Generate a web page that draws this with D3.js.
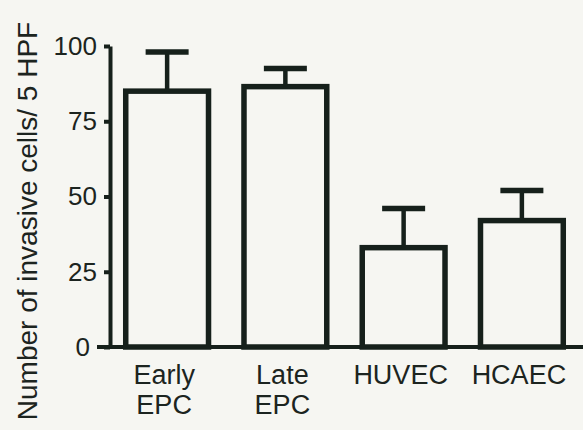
<!DOCTYPE html>
<html>
<head>
<meta charset="utf-8">
<script src="https://cdn.jsdelivr.net/npm/d3@7"></script>
<style>
  html, body { margin: 0; padding: 0; background: #f6f6f2; }
  svg { display: block; }
  text { font-family: "Liberation Sans", Arial, sans-serif; fill: #1c2420; }
</style>
</head>
<body>
<div id="chart"></div>
<script>
// data
const categories = ["Early EPC", "Late EPC", "HUVEC", "HCAEC"];
const labelLines = [["Early", "EPC"], ["Late", "EPC"], ["HUVEC"], ["HCAEC"]];
const means = [85, 86.5, 33, 42];
const errors = [13, 6, 13, 10];
const yTicks = [0, 25, 50, 75, 100];
const yTitle = "Number of invasive cells/ 5 HPF";

const width = 583, height = 430;
const ink = "#16201b";

const svg = d3.select("#chart").append("svg")
  .attr("width", width)
  .attr("height", height);

const y = d3.scaleLinear().domain([0, 100]).range([347, 46]);
const x = d3.scaleBand().domain(categories)
  .range([108, 581])
  .paddingInner(0.3)
  .paddingOuter(0.15);

// y axis
const yAxis = svg.append("g")
  .attr("transform", "translate(110,0)")
  .call(d3.axisLeft(y).tickValues(yTicks).tickSize(6).tickPadding(7).tickSizeOuter(0));
yAxis.select(".domain").attr("stroke", ink).attr("stroke-width", 4);
yAxis.selectAll(".tick line").attr("stroke", ink).attr("stroke-width", 4);
yAxis.selectAll(".tick text")
  .style("font-size", "26px")
  .style("font-family", "'Liberation Sans', Arial, sans-serif")
  .attr("fill", ink);
// the zero label sits further left, beside the longer baseline stub
yAxis.selectAll(".tick").filter(d => d === 0).select("text").attr("x", -20);

// x baseline
svg.append("line")
  .attr("x1", 97).attr("x2", width)
  .attr("y1", y(0)).attr("y2", y(0))
  .attr("stroke", ink).attr("stroke-width", 4);

// bars
svg.append("g").selectAll("rect")
  .data(categories)
  .join("rect")
  .attr("x", d => x(d))
  .attr("y", (d, i) => y(means[i]))
  .attr("width", x.bandwidth())
  .attr("height", (d, i) => y(0) - y(means[i]))
  .attr("fill", "none")
  .attr("stroke", ink)
  .attr("stroke-width", 5.5);

// error bars (upper only)
const capW = 43;
const eb = svg.append("g").selectAll("g")
  .data(categories)
  .join("g");
eb.append("line")
  .attr("x1", d => x(d) + x.bandwidth() / 2)
  .attr("x2", d => x(d) + x.bandwidth() / 2)
  .attr("y1", (d, i) => y(means[i]))
  .attr("y2", (d, i) => y(means[i] + errors[i]))
  .attr("stroke", ink).attr("stroke-width", 4.5);
eb.append("line")
  .attr("x1", d => x(d) + x.bandwidth() / 2 - capW / 2)
  .attr("x2", d => x(d) + x.bandwidth() / 2 + capW / 2)
  .attr("y1", (d, i) => y(means[i] + errors[i]))
  .attr("y2", (d, i) => y(means[i] + errors[i]))
  .attr("stroke", ink).attr("stroke-width", 5.5);

// category labels
svg.append("g").selectAll("text")
  .data(categories)
  .join("text")
  .attr("text-anchor", "middle")
  .attr("transform", d => `translate(${x(d) + x.bandwidth() / 2 - 3},384)`)
  .style("font-size", "27px")
  .selectAll("tspan")
  .data((d, i) => labelLines[i])
  .join("tspan")
  .attr("x", 0)
  .attr("dy", (d, i) => i === 0 ? 0 : 30)
  .text(d => d);

// y title
svg.append("text")
  .attr("transform", "translate(37,221) rotate(-90)")
  .attr("text-anchor", "middle")
  .style("font-size", "28px")
  .text(yTitle);
</script>
</body>
</html>
